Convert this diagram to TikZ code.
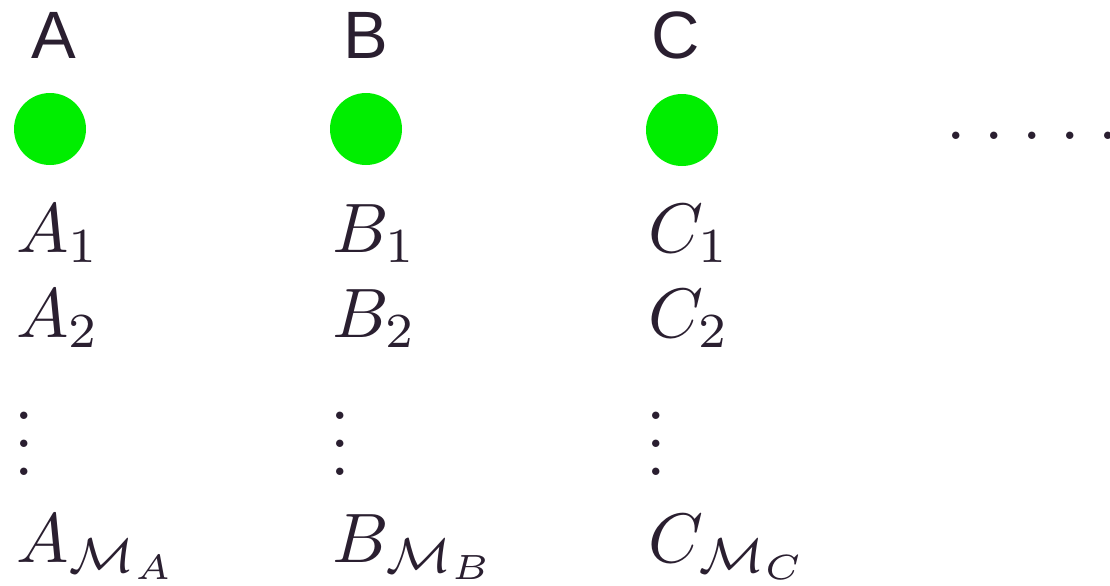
\documentclass[tikz,border=0pt]{standalone}
\usepackage[no-math]{fontspec}
\usepackage{amsmath,amssymb}
\usepackage{tikz}
\usetikzlibrary{positioning}
\newfontfamily\headfont{Liberation Sans}
\definecolor{ink}{HTML}{2A1F30}
\definecolor{lime}{HTML}{00EE00}
\tikzset{
  head/.style  = {font=\headfont, text=ink, scale=3.35, anchor=base, inner sep=0pt},
  blob/.style  = {circle, fill=lime, minimum size=36pt, inner sep=0pt},
  entry/.style = {text=ink, scale=3.5, anchor=base west, inner sep=0pt},
}
\begin{document}
\begin{tikzpicture}[x=0.5pt, y=-0.5pt]
\useasboundingbox (0,0) rectangle (1110,585);

% ---------------- column A --------------------------------------------
\node[head] at (54,58) (hA) {A};
\node[blob] at (50,129) (cA) {};
\node[entry] at (15,252) (a1) {$A_1$};
\node[entry] at (15,337) (a2) {$A_2$};
\node[entry] at (13,475) (av) {$\vdots$};
\node[entry] at (15,562) (am) {$A_{\mathcal{M}_A}$};

% ---------------- column B --------------------------------------------
\node[head] at (366,58) (hB) {B};
\node[blob] at (366,129) (cB) {};
\node[entry] at (331,252) (b1) {$B_1$};
\node[entry] at (331,337) (b2) {$B_2$};
\node[entry] at (329,475) (bv) {$\vdots$};
\node[entry] at (331,562) (bm) {$B_{\mathcal{M}_B}$};

% ---------------- column C --------------------------------------------
\node[head] at (676,58) (hC) {C};
\node[blob] at (682,130) (cC) {};
\node[entry] at (647,252) (c1) {$C_1$};
\node[entry] at (647,337) (c2) {$C_2$};
\node[entry] at (645,475) (cv) {$\vdots$};
\node[entry] at (647,562) (cm) {$C_{\mathcal{M}_C}$};

% and so on
\node[entry] at (945,139) (more) {.\kern2.65pt.\kern2.65pt.\kern2.65pt.\kern2.65pt.};

\end{tikzpicture}
\end{document}
